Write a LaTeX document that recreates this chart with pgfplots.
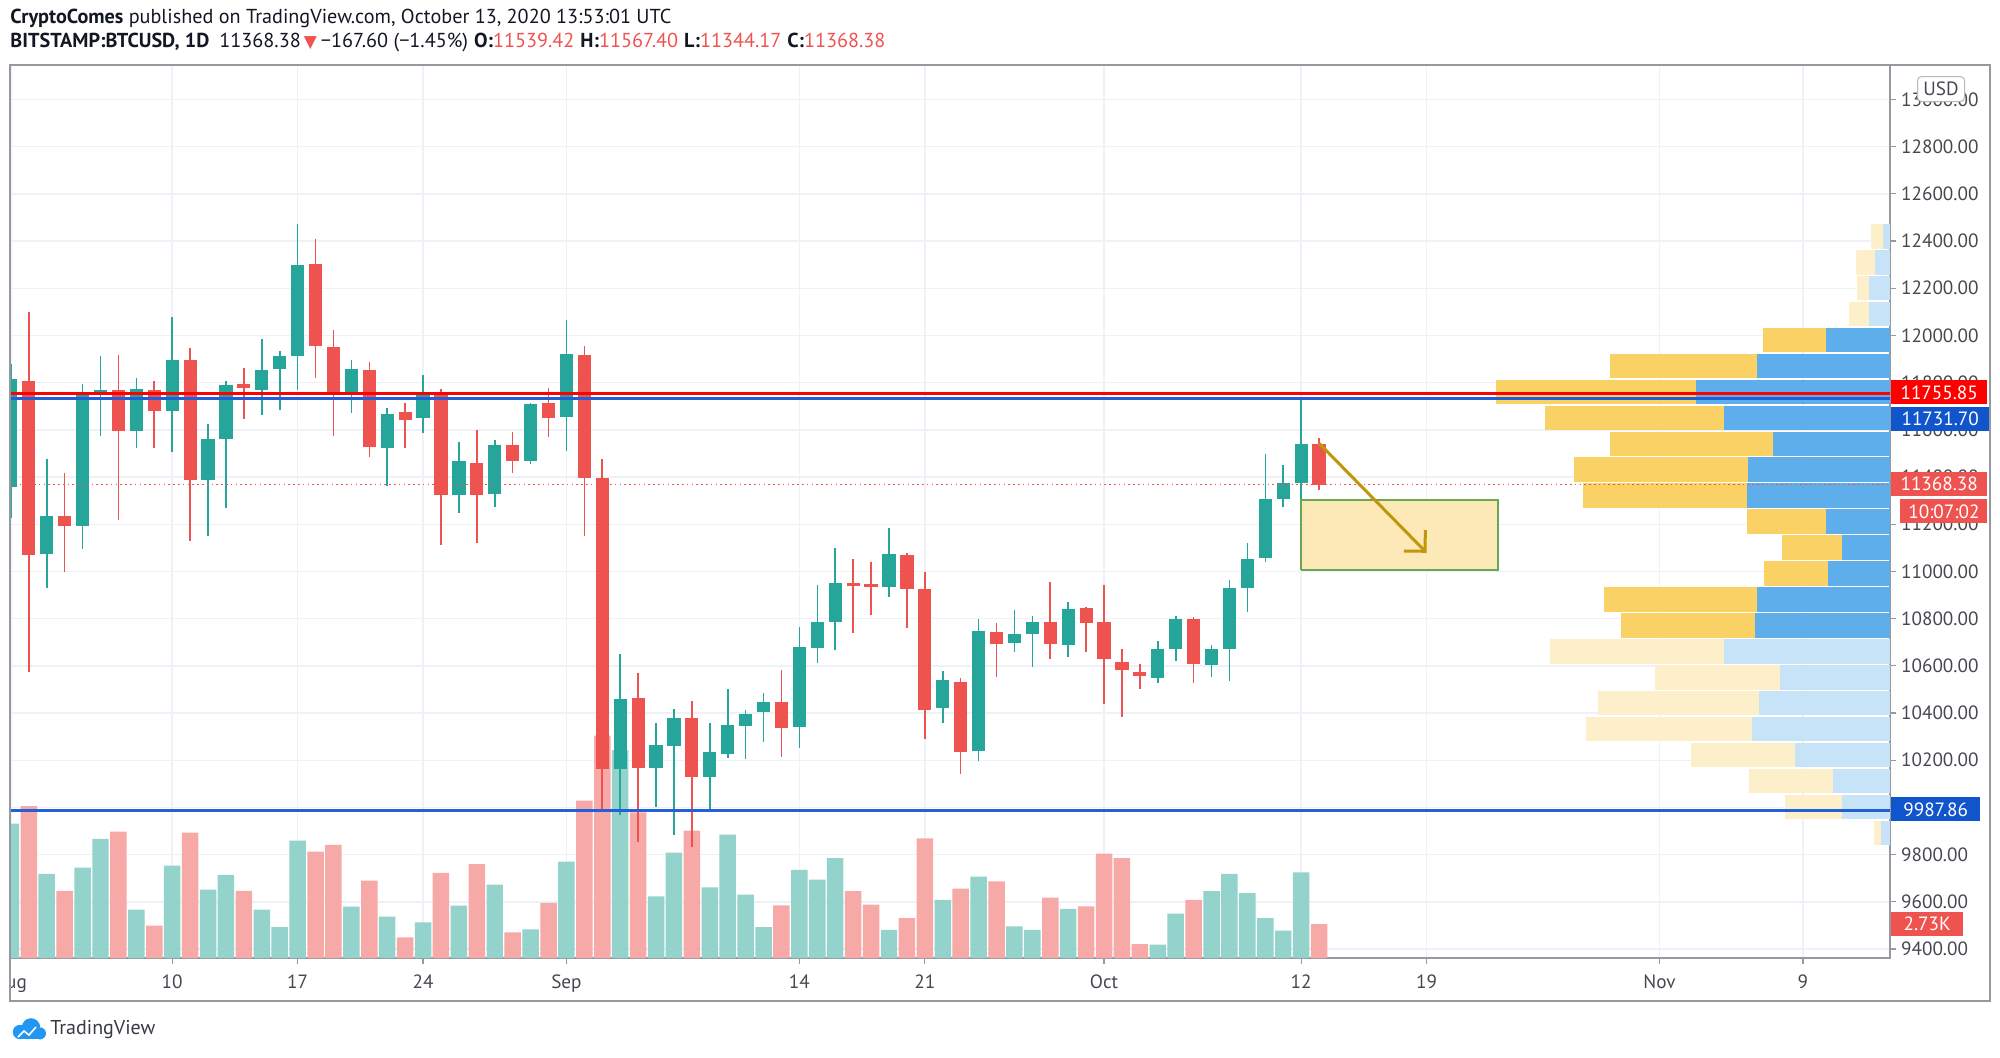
\documentclass[border=0pt]{standalone}
\usepackage{fontspec}
\setmainfont{PT Sans}
\newfontfamily\symfont{DejaVu Sans}
\usepackage{pgfplots}
\pgfplotsset{compat=1.18}
\usepackage{pgfplotstable}
\usetikzlibrary{arrows.meta}

\definecolor{upc}{RGB}{38,166,154}
\definecolor{dnc}{RGB}{239,83,80}
\definecolor{volup}{RGB}{147,211,204}
\definecolor{voldn}{RGB}{247,169,167}
\definecolor{gridc}{RGB}{238,241,248}
\definecolor{framec}{RGB}{150,153,160}
\definecolor{labc}{RGB}{70,72,80}
\definecolor{txtc}{RGB}{19,23,34}
\definecolor{vpy}{RGB}{250,209,101}
\definecolor{vpb}{RGB}{93,174,234}
\definecolor{vpyl}{RGB}{253,239,201}
\definecolor{vpbl}{RGB}{198,227,247}
\definecolor{redline}{RGB}{255,0,0}
\definecolor{blueline}{RGB}{35,95,215}
\definecolor{bluetag}{RGB}{17,85,204}
\definecolor{arrowc}{RGB}{192,150,10}
\definecolor{rectfill}{RGB}{253,230,176}
\definecolor{rectline}{RGB}{106,168,79}
\definecolor{tvblue}{RGB}{33,150,243}

% daily candles, x = days from Aug 10
\pgfplotstableread{
d o h l c
-9 11358 11881 11227 11816
-7 11074 11478 10930 11234
-5 11192 11795 11093 11753
-4 11754 11912 11573 11768
-2 11597 11818 11524 11775
0 11679 12078 11507 11894
2 11388 11625 11149 11563
3 11563 11806 11269 11791
5 11770 11986 11665 11852
6 11856 11936 11685 11911
7 11914 12471 11770 12297
10 11761 11894 11671 11859
12 11524 11693 11364 11668
14 11652 11832 11586 11760
16 11323 11549 11248 11470
18 11329 11555 11273 11536
20 11467 11714 11456 11710
22 11654 12065 11512 11921
25 10161 10649 9968 10458
27 10168 10356 10003 10264
28 10260 10417 9882 10380
30 10127 10356 9986 10236
31 10225 10500 10210 10348
32 10345 10413 10204 10395
33 10404 10483 10278 10445
35 10341 10766 10250 10678
36 10674 10942 10613 10787
37 10787 11100 10667 10951
40 10932 11182 10893 11076
43 10420 10578 10356 10540
45 10239 10800 10197 10749
47 10696 10836 10657 10735
48 10735 10811 10594 10784
50 10690 10870 10639 10841
55 10547 10705 10529 10671
56 10671 10811 10622 10798
58 10603 10687 10551 10671
59 10671 10964 10536 10928
60 10928 11122 10830 11053
61 11058 11499 11040 11305
62 11305 11451 11274 11375
63 11375 11733 11305 11540
}\upcandles

\pgfplotstableread{
d o h l c
-8 11806 12099 10574 11071
-6 11234 11418 10998 11192
-3 11768 11919 11216 11597
-1 11767 11806 11524 11679
1 11894 11945 11128 11388
4 11796 11863 11648 11778
8 12301 12407 11820 11955
9 11951 12021 11572 11754
11 11855 11887 11483 11526
13 11676 11714 11521 11641
15 11757 11774 11111 11323
17 11461 11601 11121 11326
19 11536 11590 11418 11467
21 11713 11778 11569 11651
23 11918 11956 11152 11396
24 11394 11477 9995 10161
26 10462 10571 9855 10168
29 10380 10449 9831 10127
34 10448 10582 10215 10338
38 10952 11053 10741 10940
39 10945 11040 10815 10932
41 11069 11078 10759 10924
42 10924 10999 10288 10413
44 10530 10547 10140 10235
46 10742 10781 10554 10693
49 10784 10954 10629 10693
51 10845 10850 10660 10780
52 10784 10942 10438 10628
53 10615 10671 10382 10582
54 10572 10608 10503 10556
57 10798 10808 10529 10608
64 11539.42 11567.40 11344.17 11368.38
}\dncandles

% volume in thousands
\pgfplotstableread{
d v
-9 10.8
-7 6.75
-5 7.26
-4 9.56
-2 3.88
0 7.42
2 5.49
3 6.67
5 3.88
6 2.49
7 9.42
10 4.12
12 3.32
14 2.86
16 4.2
18 5.89
20 2.3
22 7.74
25 16.7
27 4.95
28 8.46
30 5.68
31 9.9
32 5.09
33 2.49
35 7.07
36 6.29
37 8.03
40 2.25
43 4.66
45 6.53
47 2.54
48 2.25
50 3.94
55 1.07
56 3.56
58 5.38
59 6.75
60 5.22
61 3.21
62 2.2
63 6.88
}\volup

\pgfplotstableread{
d v
-8 12.2
-6 5.4
-3 10.15
-1 2.6
1 10.07
4 5.4
8 8.54
9 9.08
11 6.21
13 1.66
15 6.83
17 7.55
19 2.06
21 4.42
23 12.64
24 17.86
26 11.7
29 10.23
34 4.23
38 5.38
39 4.28
41 3.21
42 9.61
44 5.57
46 6.16
49 4.85
51 4.15
52 8.38
53 8.03
54 1.12
57 4.66
64 2.73
}\voldn

% volume profile rows: centre price, left end, split
\pgfplotstableread{
y xl xm
11980.45 88.78 92.29
11870.55 80.23 88.44
11760.65 73.85 85.03
11650.75 76.61 86.61
11540.85 80.23 89.33
11430.95 78.25 87.96
11321.05 78.71 87.88
11211.15 87.88 92.29
11101.25 89.82 93.17
10991.35 88.84 92.41
10881.45 79.88 88.43
10771.55 80.86 88.32
}\vpsolid

\pgfplotstableread{
y xl xm
12420.05 94.80 95.44
12310.15 93.95 95.03
12200.25 94.01 94.70
12090.35 93.58 94.70
10661.65 76.90 86.61
10551.75 82.76 89.72
10441.85 79.59 88.55
10331.95 78.92 88.16
10222.05 84.73 90.56
10112.15 87.98 92.66
10002.25 90.02 93.17
9892.35 94.97 95.36
}\vplight

\newcommand\tagfont{\fontsize{9.6}{11}\selectfont}
\pgfplotsset{
  hbar/.style n args={2}{draw=none, mark=none, forget plot,
    error bars/.cd, x dir=minus, x explicit, error mark=none,
    error bar style={draw=#1, solid, line width=#2}},
  vbar/.style n args={2}{draw=none, mark=none, forget plot,
    error bars/.cd, y dir=minus, y explicit, error mark=none,
    error bar style={draw=#1, solid, line width=#2}},
}

\begin{document}
\begin{tikzpicture}
\path[use as bounding box] (0,0) rectangle (1000pt,528.5pt);

\begin{axis}[
  at={(5pt,49.5pt)}, anchor=south west,
  scale only axis, width=940pt, height=446.5pt,
  xmin=-9.05, xmax=95.86, ymin=9361.9, ymax=13146,
  clip mode=individual,
  axis line style={draw=framec, line width=0.8pt},
  xtick={-9,0,7,14,22,35,42,52,63,70,83,91},
  xticklabels={Aug,10,17,24,Sep,14,21,Oct,12,19,Nov,9},
  ytick={9400,9600,...,13000},
  scaled y ticks=false,
  yticklabel pos=right, ytick pos=right, xtick pos=left,
  tick align=outside, major tick length=3pt,
  tick style={draw=framec, line width=0.6pt},
  grid=major, grid style={draw=gridc, line width=0.7pt},
  /pgf/number format/assume math mode=true,
  yticklabel style={/pgf/number format/fixed, /pgf/number format/fixed zerofill,
    /pgf/number format/precision=2, /pgf/number format/1000 sep={}, xshift=-1pt},
  xticklabel style={yshift=-2pt},
  ticklabel style={font=\tagfont, text=labc},
]
% volume
\addplot[ybar, bar shift=0pt, bar width=0.92, fill=volup, draw=none]
  table[x=d, y expr=9361.9+52.76*\thisrow{v}] {\volup};
\addplot[ybar, bar shift=0pt, bar width=0.92, fill=voldn, draw=none]
  table[x=d, y expr=9361.9+52.76*\thisrow{v}] {\voldn};

% volume profile
\addplot[hbar={vpy}{12.3pt}]
  table[x=xm, y=y, x error minus expr=\thisrow{xm}-\thisrow{xl}] {\vpsolid};
\addplot[hbar={vpb}{12.3pt}]
  table[x expr=95.86, y=y, x error minus expr=95.86-\thisrow{xm}] {\vpsolid};
\addplot[hbar={vpyl}{12.3pt}]
  table[x=xm, y=y, x error minus expr=\thisrow{xm}-\thisrow{xl}] {\vplight};
\addplot[hbar={vpbl}{12.3pt}]
  table[x expr=95.86, y=y, x error minus expr=95.86-\thisrow{xm}] {\vplight};

% wicks
\addplot[vbar={upc}{0.8pt}]
  table[x=d, y=h, y error minus expr=\thisrow{h}-\thisrow{l}] {\upcandles};
\addplot[vbar={dnc}{0.8pt}]
  table[x=d, y=h, y error minus expr=\thisrow{h}-\thisrow{l}] {\dncandles};
% bodies
\addplot[vbar={upc}{6.6pt}]
  table[x=d, y=c, y error minus expr=\thisrow{c}-\thisrow{o}] {\upcandles};
\addplot[vbar={dnc}{6.6pt}]
  table[x=d, y=o, y error minus expr=\thisrow{o}-\thisrow{c}] {\dncandles};

% price lines
\addplot[dnc, line width=0.6pt, dash pattern=on 0.8pt off 1.6pt] coordinates {(-9.05,11368.38) (95.86,11368.38)};
\addplot[redline, line width=1.5pt] coordinates {(-9.05,11755.85) (95.86,11755.85)};
\addplot[blueline, line width=1.5pt] coordinates {(-9.05,11731.70) (95.86,11731.70)};
\addplot[blueline, line width=1.5pt] coordinates {(-9.05,9987.86) (95.86,9987.86)};

% drawings
\addplot[fill=rectfill, fill opacity=0.9, draw=rectline, line width=0.8pt]
  coordinates {(63,11006) (74,11006) (74,11303) (63,11303) (63,11006)};
\addplot[arrowc, line width=1.5pt, -{Straight Barb[length=7.5pt, width=15pt, line width=1.5pt]}]
  coordinates {(64,11543) (70,11079)};

\coordinate (tA) at ({rel axis cs:1,0}|-{axis cs:0,11759});
\coordinate (tB) at ({rel axis cs:1,0}|-{axis cs:0,11646});
\coordinate (tC) at ({rel axis cs:1,0}|-{axis cs:0,11372});
\coordinate (tD) at ({rel axis cs:1,0}|-{axis cs:0,11254});
\coordinate (tE) at ({rel axis cs:1,0}|-{axis cs:0,9992});
\coordinate (tF) at ({rel axis cs:1,0}|-{axis cs:0,9508});
\coordinate (tG) at ({rel axis cs:1,0}|-{axis cs:0,13044});
\end{axis}

% price tags
\begin{scope}[every node/.style={anchor=west, inner sep=0pt, font=\tagfont, text=white, minimum height=12pt}]
\node[fill=redline, minimum width=48pt] at ([xshift=0.4pt]tA) {11755.85};
\node[fill=bluetag, minimum width=49pt] at ([xshift=0.4pt]tB) {11731.70};
\node[fill=dnc, minimum width=48pt] at ([xshift=0.4pt]tC) {11368.38};
\node[fill=dnc, minimum width=43.5pt] at ([xshift=5pt]tD) {10:07:02};
\node[fill=bluetag, minimum width=44.5pt] at ([xshift=0.4pt]tE) {9987.86};
\node[fill=dnc, minimum width=36pt] at ([xshift=0.4pt]tF) {2.73K};
\node[fill=white, draw=framec!70, rounded corners=2pt, text=labc, minimum width=23.5pt, minimum height=12.5pt, line width=0.5pt] at ([xshift=13.5pt]tG) {USD};
\end{scope}

% frame
\fill[white] (0,20pt) rectangle (4.6pt,48pt);
\draw[framec, line width=0.8pt] (5pt,28pt) rectangle (995pt,496pt);

% header
\node[anchor=west, inner sep=0pt, font=\fontsize{10.1}{12}\selectfont, text=txtc] at (5pt,519.5pt)
  {\textbf{CryptoComes} published on TradingView.com, October 13, 2020 13:53:01 UTC};
\node[anchor=west, inner sep=0pt, font=\fontsize{10.1}{12}\selectfont, text=txtc] at (5pt,507pt)
  {\textbf{BITSTAMP:BTCUSD, 1D}\hspace{5pt}11368.38\hspace{1.5pt}{\color{dnc}\symfont\fontsize{8.5}{10}\selectfont▼}\hspace{2pt}−167.60 (−1.45\%)\hspace{3pt}\textbf{O:}{\color{dnc}11539.42}\hspace{3pt}\textbf{H:}{\color{dnc}11567.40}\hspace{3pt}\textbf{L:}{\color{dnc}11344.17}\hspace{3pt}\textbf{C:}{\color{dnc}11368.38}};

% logo
\fill[tvblue] (10pt,12.5pt) circle (3.6pt);
\fill[tvblue] (15.5pt,14.8pt) circle (4.6pt);
\fill[tvblue] (20pt,11.8pt) circle (3pt);
\fill[tvblue] (10pt,8.9pt) rectangle (20pt,12pt);
\draw[white, line width=0.8pt] (9pt,10pt) -- (12pt,13pt) -- (14.5pt,11pt) -- (18pt,15pt);
\node[anchor=west, inner sep=0pt, font=\fontsize{10}{12}\selectfont, text=txtc!85] at (25pt,13.5pt) {TradingView};
\end{tikzpicture}
\end{document}
